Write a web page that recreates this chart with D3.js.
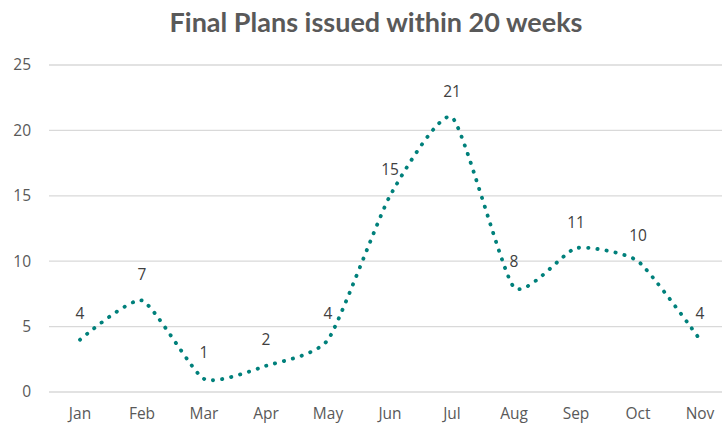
<!DOCTYPE html>
<html><head><meta charset="utf-8">
<script src="https://cdn.jsdelivr.net/npm/d3@7"></script>
<style>body{margin:0;background:#fff}svg{display:block}</style>
</head><body>
<svg id="c" width="722" height="425"></svg>
<script>
const months = ["Jan","Feb","Mar","Apr","May","Jun","Jul","Aug","Sep","Oct","Nov"];
const values = [4,7,1,2,4,15,21,8,11,10,4];
const yTicks = [0,5,10,15,20,25];
const title = "Final Plans issued within 20 weeks";

const svg = d3.select("#c");
const x = d3.scaleBand().domain(months).range([49,731]);
const y = d3.scaleLinear().domain([0,25]).range([392,65]);

svg.append("text").attr("x",376).attr("y",32).attr("text-anchor","middle")
  .attr("font-family","Lato, 'Open Sans', sans-serif").attr("font-weight","bold")
  .attr("font-size",27).attr("fill","#595959").text(title);

const g = svg.append("g");
g.selectAll("line.grid").data(yTicks).enter().append("line")
  .attr("x1",49).attr("x2",731).attr("y1",d=>y(d)).attr("y2",d=>y(d))
  .attr("stroke","#d9d9d9").attr("stroke-width",1.3);

g.selectAll("text.yt").data(yTicks).enter().append("text")
  .attr("x",31).attr("y",d=>y(d)).attr("dy","0.35em").attr("text-anchor","end")
  .attr("font-family","'Open Sans', sans-serif").attr("font-size",15.5).attr("fill","#595959")
  .text(d=>d);

g.selectAll("text.xt").data(months).enter().append("text")
  .attr("x",d=>x(d)+x.bandwidth()/2).attr("y",414).attr("dy","0.35em").attr("text-anchor","middle")
  .attr("font-family","'Open Sans', sans-serif").attr("font-size",15.5).attr("fill","#595959")
  .text(d=>d);

const line = d3.line().x((d,i)=>x(months[i])+x.bandwidth()/2).y(d=>y(d)).curve(d3.curveCardinal.tension(0.45));
svg.append("path").datum(values).attr("d",line).attr("fill","none")
  .attr("stroke","#00807b").attr("stroke-width",3.8).attr("stroke-linecap","round")
  .attr("stroke-dasharray","0.3 8.9");

svg.selectAll("text.lbl").data(values).enter().append("text")
  .attr("x",(d,i)=>x(months[i])+x.bandwidth()/2).attr("y",d=>y(d)-26).attr("dy","0.35em")
  .attr("text-anchor","middle")
  .attr("font-family","'Open Sans', sans-serif").attr("font-size",15.5).attr("fill","#404040")
  .text(d=>d);
</script>
</body></html>
